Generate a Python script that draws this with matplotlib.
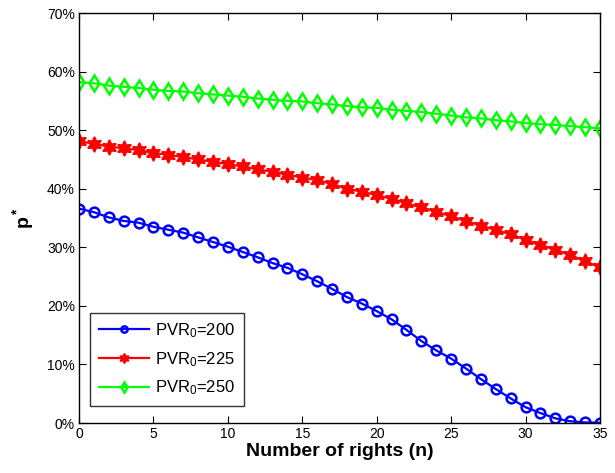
import matplotlib
matplotlib.use('Agg')
import matplotlib.pyplot as plt
import numpy as np
from matplotlib.ticker import FuncFormatter

plt.rcParams['font.family'] = ['Liberation Sans', 'DejaVu Sans']
plt.rcParams['mathtext.default'] = 'regular'

n = np.arange(0, 36)

p_200 = [36.6, 36.0, 35.1, 34.5, 34.2, 33.5, 33.0, 32.5, 31.7, 30.9,
         30.1, 29.2, 28.3, 27.3, 26.5, 25.4, 24.2, 22.9, 21.5, 20.4,
         19.1, 17.7, 15.9, 14.0, 12.4, 11.0, 9.3, 7.5, 5.8, 4.2,
         2.7, 1.7, 0.8, 0.3, 0.1, 0.05]
p_225 = [48.1, 47.7, 47.2, 46.9, 46.6, 46.1, 45.8, 45.4, 45.0, 44.6,
         44.2, 43.8, 43.3, 42.9, 42.4, 41.9, 41.5, 40.8, 40.0, 39.5,
         38.9, 38.3, 37.5, 36.8, 36.1, 35.3, 34.5, 33.7, 33.0, 32.2,
         31.3, 30.4, 29.6, 28.7, 27.6, 26.6]
p_250 = [58.2, 58.0, 57.6, 57.4, 57.2, 56.9, 56.7, 56.6, 56.3, 56.1,
         55.9, 55.7, 55.4, 55.2, 55.0, 54.9, 54.6, 54.4, 54.1, 53.9,
         53.8, 53.5, 53.3, 53.1, 52.8, 52.5, 52.2, 52.0, 51.7, 51.5,
         51.2, 51.0, 50.9, 50.7, 50.5, 50.3]
labels = ['PVR$_0$=200', 'PVR$_0$=225', 'PVR$_0$=250']

fig = plt.figure(figsize=(6.15, 4.73), dpi=100)
ax = fig.add_axes([0.1285, 0.1057, 0.847, 0.8668])

ax.plot(n, np.array(p_200) / 100, color='#0000ff', lw=1.6, marker='o',
        ms=7, mfc='none', mew=1.8, label=labels[0])
ax.plot(n, np.array(p_225) / 100, color='#ff0000', lw=1.6, marker=(6, 1, 0),
        ms=11, mfc='#ff0000', mew=1.2, label=labels[1])
ax.plot(n, np.array(p_250) / 100, color='#00ff00', lw=1.6, marker='d',
        ms=8, mfc='none', mew=1.8, label=labels[2])

ax.set_xlim(0, 35)
ax.set_ylim(0, 0.7)
ax.set_xticks(np.arange(0, 36, 5))
ax.set_yticks(np.arange(0, 0.71, 0.1))
ax.yaxis.set_major_formatter(FuncFormatter(lambda v, _: f'{v * 100:.0f}%'))
ax.tick_params(direction='in', top=True, right=True, labelsize=10, length=5, pad=3)
for s in ax.spines.values():
    s.set_linewidth(1)

ax.set_xlabel('Number of rights (n)', fontsize=14, fontweight='bold', labelpad=1)
ax.set_ylabel('p$^*$', fontsize=14, fontweight='bold', labelpad=8)

leg = ax.legend(loc='lower left', bbox_to_anchor=(0.012, 0.03), fontsize=12,
                frameon=True, fancybox=False, edgecolor='black', markerscale=0.65,
                handlelength=3.0, handletextpad=0.4, borderpad=0.5,
                labelspacing=0.6, borderaxespad=0.3)
leg.get_frame().set_linewidth(1)

fig.savefig('out.png', dpi=100)
